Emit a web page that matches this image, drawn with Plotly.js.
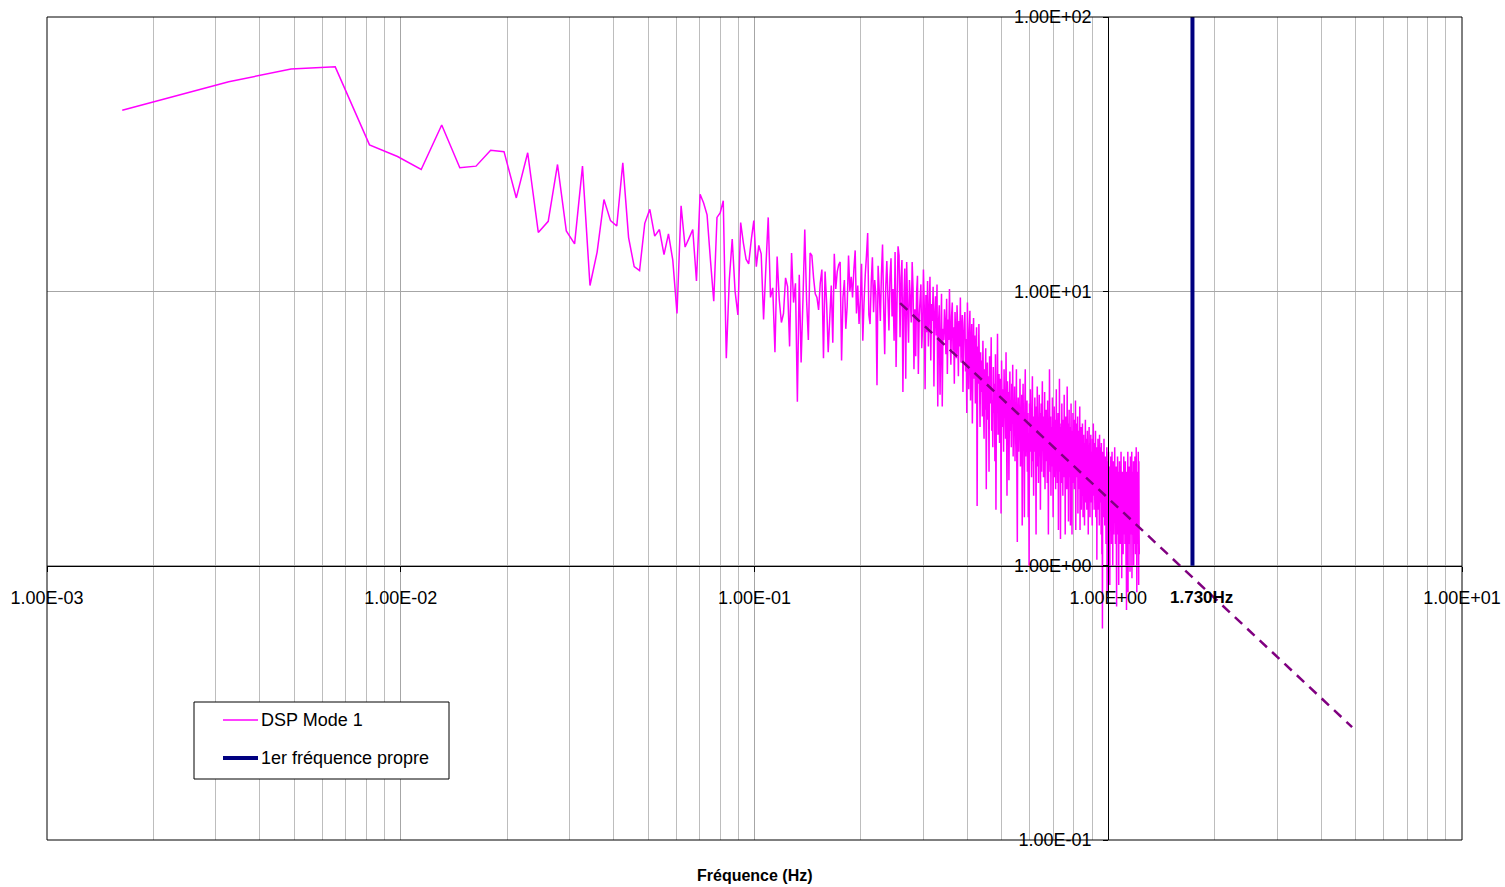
<!DOCTYPE html>
<html>
<head>
<meta charset="utf-8">
<script src="https://cdn.plot.ly/plotly-3.0.1.min.js"></script>
<style>
html, body { margin: 0; padding: 0; background: #fff; }
#chart { width: 1505px; height: 887px; }
</style>
</head>
<body>
<div id="chart"></div>
<script>
// Power spectral density of mode 1, one value per FFT bin.
// Bins are evenly spaced FREQ_STEP apart, starting at the first non-zero bin.
const FREQ_STEP = 0.001632; // Hz

// bins 1-62
const dspLowBand = [
  45.7, 58.1, 64.6, 65.8, 34.2, 31.0, 27.8, 40.4, 28.2, 28.6,
  32.7, 32.3, 21.9, 32.0, 16.4, 18.0, 29.0, 16.6, 14.9, 28.6,
  10.5, 13.9, 21.6, 18.1, 17.3, 29.4, 15.7, 12.3, 11.9, 17.7,
  19.9, 15.9, 16.8, 13.6, 16.2, 13.0, 8.3, 20.5, 14.5, 15.6,
  16.8, 10.9, 22.6, 21.0, 19.0, 13.0, 9.2, 18.6, 19.3, 21.4,
  5.7, 11.0, 15.5, 10.0, 8.2, 17.8, 15.0, 13.1, 12.6, 15.4,
  18.1, 12.3
];

// bins 63-240
const dspMidBand = [
  14.7, 13.7, 7.9, 12.3, 18.6, 9.5, 10.3, 6.0, 13.4, 9.3,
  7.7, 8.3, 11.2, 10.4, 6.3, 13.8, 9.1, 10.7, 3.96, 11.5,
  5.5, 9.3, 16.8, 9.3, 6.65, 13.8, 13.5,
  11.2, 9.8, 9.5, 8.55, 10.7, 12.0, 5.7, 11.8, 9.0, 6.0,
  8.0, 10.5, 6.5, 13.7, 10.2, 11.8, 12.5, 12.8, 5.6, 9.5,
  11.0, 7.3, 8.8, 13.5, 10.0, 11.3, 9.5, 12.0, 14.1, 8.3,
  10.5, 7.6, 9.2, 12.6, 6.6, 9.1, 11.5, 13.5, 16.3, 8.2,
  7.6, 10.8, 13.3, 8.4, 11.0, 9.7, 4.55, 12.4, 10.1, 7.8,
  11.6, 14.8, 8.9, 5.9, 10.4, 12.9, 9.6, 7.2, 11.3, 13.2, 8.1,
  10.2, 6.6, 13.9, 5.3, 9.4, 14.6, 13.5, 6.8, 11.2, 13.0,
  4.3, 9.4, 12.1, 4.8, 12.8, 8.7, 6.5, 11.0, 9.3, 7.7,
  12.8, 10.2, 5.2, 8.6, 5.8, 9.9, 11.4, 5.0, 8.1, 9.3,
  10.6, 6.2, 7.4, 12.0, 8.8, 4.4, 9.7, 7.1, 10.9, 6.3,
  8.4, 11.3, 5.6, 9.0, 7.8, 10.4, 4.5, 8.2, 9.6, 6.9,
  10.6, 3.8, 7.7, 8.9, 4.2, 6.4, 9.8, 3.8, 7.3, 6.65,
  8.6, 7.5, 5.9, 9.4, 5.0, 7.9, 6.65, 10.2, 7.0, 5.4,
  8.1, 9.1, 6.1, 7.4, 4.6, 8.4, 6.9, 5.7, 8.9, 7.2,
  4.9, 7.8, 6.3, 9.5, 5.5, 7.0, 8.2, 4.3, 6.6, 7.7
];

// bins 241-750
const dspHighBand = [
  8.4, 5.1, 6.7, 3.6, 9.1, 5.8, 4.4, 7.2, 8.5, 4.0,
  6.1, 7.6, 3.3, 5.4, 8.0, 4.8, 6.9, 3.9, 5.7, 7.4,
  1.65, 6.3, 4.6, 7.6, 5.0, 3.2, 6.0, 4.3, 5.6, 3.5,
  6.6, 4.1, 2.9, 5.2, 3.7, 6.2, 1.9, 4.7, 5.5, 3.4,
  4.9, 2.2, 5.8, 3.9, 4.4, 6.8, 3.1, 4.0, 2.7, 5.3,
  3.6, 4.6, 2.4, 5.9, 1.6, 4.2, 3.8, 7.0, 3.0, 4.5,
  5.0, 2.8, 3.5, 4.8, 1.55, 5.6, 3.9, 3.2, 4.4, 2.6,
  5.2, 3.7, 4.1, 2.9, 6.0, 3.4, 1.8, 4.7, 3.8, 4.3,
  2.05, 3.6, 5.1, 3.1, 4.0, 2.7, 4.6, 3.3, 5.4, 2.5,
  3.9, 3.2, 4.5, 2.4, 3.6, 2.9, 5.2, 2.2, 1.22, 3.4,
  4.1, 2.6, 3.7, 3.0, 4.8, 2.3, 3.5, 2.8, 4.2, 1.4,
  3.3, 4.6, 2.7, 3.1, 1.5, 3.8, 5.2, 2.5, 3.4, 2.9,
  4.0, 2.2, 3.6, 1.5, 3.0, 1.0, 3.9, 2.6, 4.4, 2.8,
  3.2, 2.1, 3.7, 4.9, 2.4, 3.3, 1.8, 3.5, 2.9, 4.1,
  2.6, 3.0, 1.3, 3.8, 2.3, 4.5, 2.8, 3.4, 2.0, 3.1,
  4.2, 2.5, 3.6, 1.6, 2.9, 3.9, 2.2, 3.3, 4.7, 2.7,
  3.0, 2.1, 3.5, 2.6, 4.3, 1.9, 3.2, 2.8, 3.7, 2.4,
  3.3, 2.0, 4.0, 2.7, 1.3, 3.1, 2.4, 5.2, 2.9, 2.2,
  3.5, 1.8, 2.8, 3.2, 2.3, 4.1, 2.6, 1.5, 3.0, 2.5,
  3.8, 2.1, 2.9, 3.4, 1.9, 2.7, 4.4, 2.3, 3.1, 2.0,
  2.8, 3.6, 1.35, 3.0, 2.4, 4.8, 2.2, 3.3, 1.25, 2.6,
  3.2, 2.0, 3.9, 2.5, 2.9, 1.8, 3.4, 2.7, 2.1, 4.2,
  2.4, 3.1, 1.3, 2.8, 3.5, 2.2, 3.0, 1.9, 4.5, 2.6,
  2.3, 3.3, 1.45, 2.7, 3.7, 2.1, 2.9, 3.2, 1.4, 2.5,
  3.9, 2.2, 2.8, 1.3, 3.1, 2.4, 3.6, 2.0, 2.7, 3.4,
  1.9, 2.5, 3.0, 2.2, 4.0, 1.35, 2.9, 2.3, 3.3, 2.6,
  2.1, 3.5, 1.55, 2.8, 2.4, 3.1, 1.9, 2.6, 3.8, 1.35,
  2.7, 2.0, 3.2, 1.6, 2.4, 2.9, 1.8, 3.3, 2.2, 1.5,
  2.6, 3.0, 1.9, 2.3, 1.4, 2.8, 2.1, 3.4, 1.7, 2.5,
  2.0, 2.9, 1.6, 2.4, 3.1, 1.8, 2.2, 1.3, 2.7, 2.3,
  3.2, 1.9, 2.5, 1.5, 2.8, 2.1, 3.0, 1.7, 2.4, 2.0,
  2.6, 1.4, 2.9, 2.2, 1.8, 3.3, 2.0, 2.5, 1.6, 2.3,
  2.8, 1.9, 2.1, 3.1, 1.5, 2.4, 2.0, 2.7, 1.05, 2.2,
  2.5, 1.8, 2.9, 2.1, 1.6, 2.6, 2.3, 1.4, 3.0, 1.9,
  2.2, 2.7, 1.7, 2.4, 1.3, 2.8, 2.0, 1.1, 2.5, 0.59,
  2.1, 2.6, 1.8, 2.3, 1.5, 2.9, 1.9, 2.2, 1.4, 2.4,
  1.7, 2.5, 2.0, 1.2, 2.2, 1.6, 2.7, 0.78, 1.1, 2.1,
  2.4, 1.5, 1.9, 2.6, 1.3, 2.0, 1.7, 2.3, 0.85, 1.8,
  2.2, 1.4, 2.5, 1.7, 1.9, 1.2, 2.1, 2.6, 1.5, 1.8,
  1.0, 2.0, 1.6, 2.4, 1.3, 1.9, 2.2, 1.5, 2.7, 1.7,
  1.8, 1.2, 2.1, 1.6, 2.3, 1.4, 0.71, 1.9, 2.0, 1.5,
  2.5, 1.7, 1.3, 2.2, 1.8, 0.85, 2.0, 1.6, 2.4, 1.4,
  1.9, 1.2, 2.3, 1.7, 1.5, 2.6, 1.3, 1.8, 0.9, 2.1,
  1.6, 2.2, 1.4, 1.9, 1.1, 2.0, 1.7, 2.5, 1.3, 1.8,
  1.5, 2.1, 1.2, 1.7, 2.4, 1.4, 1.9, 1.0, 2.0, 0.69,
  1.6, 2.2, 1.3, 1.8, 1.5, 2.6, 0.8, 1.9, 1.4, 2.1,
  1.7, 1.2, 2.3, 1.5, 1.9, 0.95, 1.6, 2.5, 1.3, 1.8,
  2.0, 1.4, 1.7, 2.6, 0.9, 1.9, 1.5, 2.2, 1.3, 1.8,
  1.6, 2.4, 1.0, 1.7, 2.0, 1.4, 1.9, 1.2, 2.5, 1.5,
  1.8, 1.1, 2.1, 1.6, 2.7, 1.3, 1.9, 0.8, 1.7, 2.2,
  1.4, 2.0, 1.2, 1.8, 2.6, 1.5, 0.85, 2.4, 1.3, 1.1
];

const dspValues = dspLowBand.concat(dspMidBand, dspHighBand);
const dspFreq = dspValues.map((_, i) => (i + 1) * FREQ_STEP);

// First natural frequency, shown as a vertical marker
const naturalFreq = 1.73;          // Hz
const naturalSpan = [1, 100];

// Decay trend drawn over the upper part of the spectrum
const trendFreq = [0.258, 4.89];
const trendPsd = [9.06, 0.258];

// Axis labels in spreadsheet scientific notation
const xTickVals = [0.001, 0.01, 0.1, 1, 10];
const xTickText = ['1.00E-03', '1.00E-02', '1.00E-01', '1.00E+00', '1.00E+01'];
const yTickVals = [0.1, 1, 10, 100];
const yTickText = ['1.00E-01', '1.00E+00', '1.00E+01', '1.00E+02'];

const seriesNames = ['DSP Mode 1', '1er fréquence propre'];
const axisTitle = 'Fréquence (Hz)';

const FONT = 'Liberation Sans, Arial, Helvetica, sans-serif';
const DSP_COLOR = '#ff00ff';
const FREQ_COLOR = '#000080';

// Figure geometry (pixels) used to place the legend box in paper units
const FIG_W = 1505, FIG_H = 887;
const MARGIN = { l: 47, r: 43, t: 17, b: 47, pad: 0 };
const plotW = FIG_W - MARGIN.l - MARGIN.r;
const plotH = FIG_H - MARGIN.t - MARGIN.b;
const px = (v) => (v - MARGIN.l) / plotW;
const py = (v) => (FIG_H - MARGIN.b - v) / plotH;

const traces = [
  {
    x: dspFreq, y: dspValues,
    type: 'scatter', mode: 'lines',
    name: seriesNames[0],
    line: { color: DSP_COLOR, width: 1.5, simplify: false },
    hoverinfo: 'skip'
  },
  {
    x: trendFreq, y: trendPsd,
    type: 'scatter', mode: 'lines',
    line: { color: '#800080', width: 2.5, dash: '10px,7px' },
    hoverinfo: 'skip'
  },
  {
    x: [naturalFreq, naturalFreq], y: naturalSpan,
    type: 'scatter', mode: 'lines',
    name: seriesNames[1],
    line: { color: FREQ_COLOR, width: 4 },
    hoverinfo: 'skip'
  }
];

// Legend box drawn by hand: frame, two line samples and their labels
const legendShapes = [
  { type: 'rect', xref: 'paper', yref: 'paper',
    x0: px(194), x1: px(449), y0: py(779), y1: py(702),
    line: { color: '#000000', width: 1 }, fillcolor: '#ffffff' },
  { type: 'line', xref: 'paper', yref: 'paper',
    x0: px(223), x1: px(258), y0: py(720), y1: py(720),
    line: { color: DSP_COLOR, width: 1.5 } },
  { type: 'line', xref: 'paper', yref: 'paper',
    x0: px(223), x1: px(258), y0: py(758), y1: py(758),
    line: { color: FREQ_COLOR, width: 4 } }
];
const legendLabels = seriesNames.map((name, i) => ({
  xref: 'paper', yref: 'paper',
  x: px(259), y: py(i === 0 ? 720 : 758),
  text: name, showarrow: false,
  xanchor: 'left', yanchor: 'middle',
  font: { family: FONT, size: 18, color: '#000000' }
}));

const layout = {
  width: FIG_W, height: FIG_H,
  margin: MARGIN,
  paper_bgcolor: '#ffffff',
  plot_bgcolor: '#ffffff',
  font: { family: FONT, size: 18, color: '#000000' },
  showlegend: false,
  xaxis: {
    type: 'log', range: [-3, 1],
    anchor: 'free', position: 1 / 3, side: 'bottom',
    showline: true, linecolor: '#000000', linewidth: 1,
    tickmode: 'array', tickvals: xTickVals, ticktext: xTickText,
    ticks: 'outside', ticklen: 5, tickcolor: '#000000',
    ticklabelstandoff: 11,
    showgrid: true, gridcolor: '#a6a6a6', gridwidth: 1,
    minor: { dtick: 'D1', showgrid: true, gridcolor: '#bdbdbd', gridwidth: 1, ticks: '' },
    zeroline: false, automargin: false, fixedrange: true
  },
  yaxis: {
    type: 'log', range: [-1, 2],
    anchor: 'free', position: 0.75, side: 'left',
    showline: true, linecolor: '#000000', linewidth: 1,
    tickmode: 'array', tickvals: yTickVals, ticktext: yTickText,
    ticks: 'outside', ticklen: 5, tickcolor: '#000000',
    ticklabelstandoff: 8,
    showgrid: true, gridcolor: '#a6a6a6', gridwidth: 1,
    zeroline: false, automargin: false, fixedrange: true
  },
  shapes: [
    { type: 'rect', xref: 'paper', yref: 'paper', x0: 0, x1: 1, y0: 0, y1: 1,
      line: { color: '#000000', width: 1 }, fillcolor: 'rgba(0,0,0,0)' }
  ].concat(legendShapes),
  annotations: [
    {
      xref: 'x', yref: 'y',
      x: Math.log10(naturalFreq), y: Math.log10(naturalSpan[0]),
      text: '<b>' + naturalFreq.toFixed(3) + 'Hz</b>',
      showarrow: false, xanchor: 'left', yanchor: 'middle',
      xshift: -24, yshift: -32,
      font: { family: FONT, size: 17, color: '#000000' }
    },
    {
      xref: 'paper', yref: 'paper', x: 0.5, y: 0,
      text: '<b>' + axisTitle + '</b>',
      showarrow: false, xanchor: 'center', yanchor: 'middle',
      yshift: -35,
      font: { family: FONT, size: 16, color: '#000000' }
    }
  ].concat(legendLabels)
};

Plotly.newPlot('chart', traces, layout, { staticPlot: true, displayModeBar: false });
</script>
</body>
</html>
